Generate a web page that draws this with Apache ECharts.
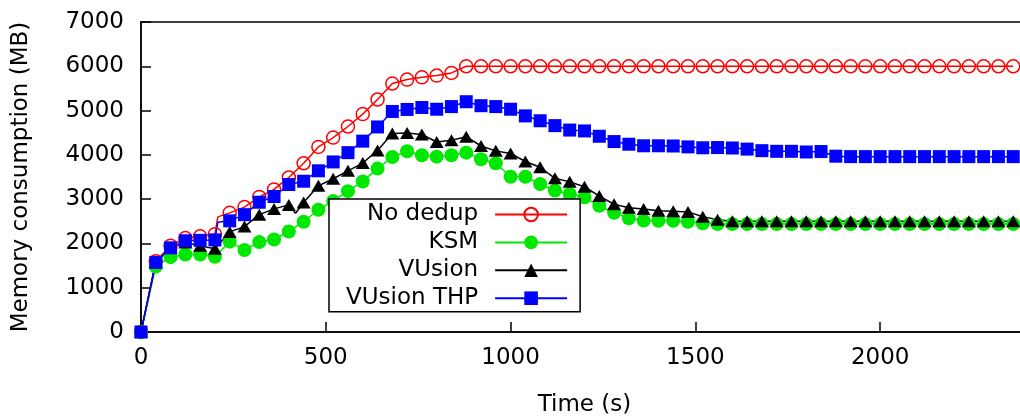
<!DOCTYPE html>
<html>
<head>
<meta charset="utf-8">
<script src="https://cdn.jsdelivr.net/npm/echarts@6/dist/echarts.min.js"></script>
<style>
  html, body { margin: 0; padding: 0; background: #fff; }
  #chart { width: 1020px; height: 416px; }
</style>
</head>
<body>
<div id="chart"></div>
<script>
// Sample times (s), one marker every 40 s
const times = [0, 40, 80, 120, 160, 200, 240, 280, 320, 360, 400, 440, 480, 520, 560, 600, 640, 680, 720, 760,
  800, 840, 880, 920, 960, 1000, 1040, 1080, 1120, 1160, 1200, 1240, 1280, 1320, 1360, 1400, 1440, 1480, 1520, 1560,
  1600, 1640, 1680, 1720, 1760, 1800, 1840, 1880, 1920, 1960, 2000, 2040, 2080, 2120, 2160, 2200, 2240, 2280, 2320, 2360];

// Memory consumption (MB) per configuration
const noDedup = [0, 1600, 1950, 2120, 2160, 2210, 2690, 2820, 3050, 3220, 3490, 3810, 4180, 4390, 4640, 4920, 5250, 5610, 5700, 5750,
  5790, 5850, 6000, 6000, 6000, 6000, 6000, 6000, 6000, 6000, 6000, 6000, 6000, 6000, 6000, 6000, 6000, 6000, 6000, 6000,
  6000, 6000, 6000, 6000, 6000, 6000, 6000, 6000, 6000, 6000, 6000, 6000, 6000, 6000, 6000, 6000, 6000, 6000, 6000, 6000];
const ksm = [0, 1480, 1690, 1750, 1750, 1700, 2040, 1850, 2030, 2090, 2270, 2490, 2760, 2960, 3180, 3400, 3690, 3950, 4080, 3990,
  3960, 3990, 4050, 3900, 3810, 3505, 3505, 3340, 3195, 3115, 3040, 2850, 2693, 2566, 2515, 2513, 2513, 2490, 2455, 2440,
  2440, 2440, 2440, 2440, 2440, 2440, 2440, 2440, 2440, 2440, 2440, 2440, 2440, 2440, 2440, 2440, 2440, 2440, 2440, 2440];
const vusion = [0, 1570, 1900, 2020, 1945, 1880, 2260, 2380, 2650, 2780, 2870, 2925, 3300, 3460, 3640, 3815, 4100, 4480, 4495, 4460,
  4290, 4330, 4410, 4200, 4090, 4030, 3850, 3720, 3470, 3390, 3280, 3070, 2885, 2805, 2775, 2740, 2725, 2710, 2605, 2535,
  2500, 2500, 2500, 2500, 2500, 2500, 2500, 2500, 2500, 2500, 2500, 2500, 2500, 2500, 2500, 2500, 2500, 2500, 2500, 2500];
const vusionThp = [0, 1570, 1900, 2060, 2070, 2080, 2510, 2650, 2930, 3060, 3330, 3405, 3640, 3840, 4050, 4310, 4630, 4980, 5025, 5070,
  5030, 5090, 5200, 5110, 5090, 5030, 4880, 4770, 4660, 4560, 4540, 4420, 4300, 4240, 4205, 4205, 4200, 4180, 4160, 4165,
  4155, 4130, 4095, 4080, 4080, 4065, 4075, 3970, 3960, 3960, 3960, 3960, 3960, 3960, 3960, 3960, 3960, 3960, 3960, 3960];

// Extra unmarked samples between markers (time, MB)
const noDedupExtra = [[208, 2600]];
const vusionExtra = [[418, 2680]];
const vusionThpExtra = [[208, 2480]];

const FONT = 'DejaVu Sans';

function buildData(values, extra) {
  const pts = times.map((t, i) => ({ value: [t, values[i]] }));
  extra.forEach(p => pts.push({ value: [p[0], p[1]], symbol: 'none' }));
  pts.sort((a, b) => a.value[0] - b.value[0]);
  return pts;
}

const plain = v => String(v);

const chart = echarts.init(document.getElementById('chart'), null, { renderer: 'canvas' });

chart.setOption({
  animation: false,
  backgroundColor: '#fff',
  textStyle: { fontFamily: FONT, color: '#000' },
  grid: {
    left: 141, top: 22, width: 887, height: 310,
    outerBoundsMode: 'none', containLabel: false,
    show: true, borderColor: '#000', borderWidth: 1.5, backgroundColor: 'transparent'
  },
  legend: {
    orient: 'vertical',
    left: 329, top: 199,
    align: 'right',
    itemWidth: 72, itemHeight: 17, itemGap: 4.9,
    padding: [4, 12, 2, 17],
    borderColor: '#000', borderWidth: 1.5,
    backgroundColor: '#fff',
    textStyle: { fontFamily: FONT, fontSize: 23, color: '#000', padding: [0, 12, 0, 0] },
    data: ['No dedup', 'KSM', 'VUsion', 'VUsion THP']
  },
  xAxis: {
    type: 'value', min: 0, max: 2400, interval: 500,
    name: 'Time (s)', nameLocation: 'middle', nameGap: 62,
    nameTextStyle: { fontFamily: FONT, fontSize: 23, color: '#000' },
    axisLine: { show: true, lineStyle: { color: '#000', width: 1.5 } },
    axisTick: { show: true, inside: true, length: 10, lineStyle: { color: '#000', width: 1.5 } },
    axisLabel: { fontFamily: FONT, fontSize: 23, color: '#000', margin: 15, showMaxLabel: false, formatter: plain },
    splitLine: { show: false }
  },
  yAxis: {
    type: 'value', min: 0, max: 7000, interval: 1000,
    name: 'Memory consumption (MB)', nameLocation: 'middle', nameGap: 108,
    nameTextStyle: { fontFamily: FONT, fontSize: 23, color: '#000' },
    axisLine: { show: true, lineStyle: { color: '#000', width: 1.5 } },
    axisTick: { show: true, inside: true, length: 10, lineStyle: { color: '#000', width: 1.5 } },
    axisLabel: { fontFamily: FONT, fontSize: 23, color: '#000', margin: 17, formatter: plain },
    splitLine: { show: false }
  },
  series: [
    {
      name: 'No dedup', type: 'line', color: '#ff0000',
      data: buildData(noDedup, noDedupExtra),
      symbol: 'circle', symbolSize: 13,
      itemStyle: { color: 'rgba(255,255,255,0)', borderColor: '#ff0000', borderWidth: 1.5 },
      lineStyle: { color: '#ff0000', width: 1.5 }
    },
    {
      name: 'KSM', type: 'line', color: '#00e800',
      data: buildData(ksm, []),
      symbol: 'circle', symbolSize: 14,
      itemStyle: { color: '#00e800' },
      lineStyle: { color: '#00e800', width: 1.5 }
    },
    {
      name: 'VUsion', type: 'line', color: '#000000',
      data: buildData(vusion, vusionExtra),
      symbol: 'triangle', symbolSize: [14, 12],
      itemStyle: { color: '#000000' },
      lineStyle: { color: '#000000', width: 1.5 }
    },
    {
      name: 'VUsion THP', type: 'line', color: '#0000ff',
      data: buildData(vusionThp, vusionThpExtra),
      symbol: 'rect', symbolSize: 13,
      itemStyle: { color: '#0000ff' },
      lineStyle: { color: '#0000ff', width: 1.5 }
    }
  ]
});
</script>
</body>
</html>
